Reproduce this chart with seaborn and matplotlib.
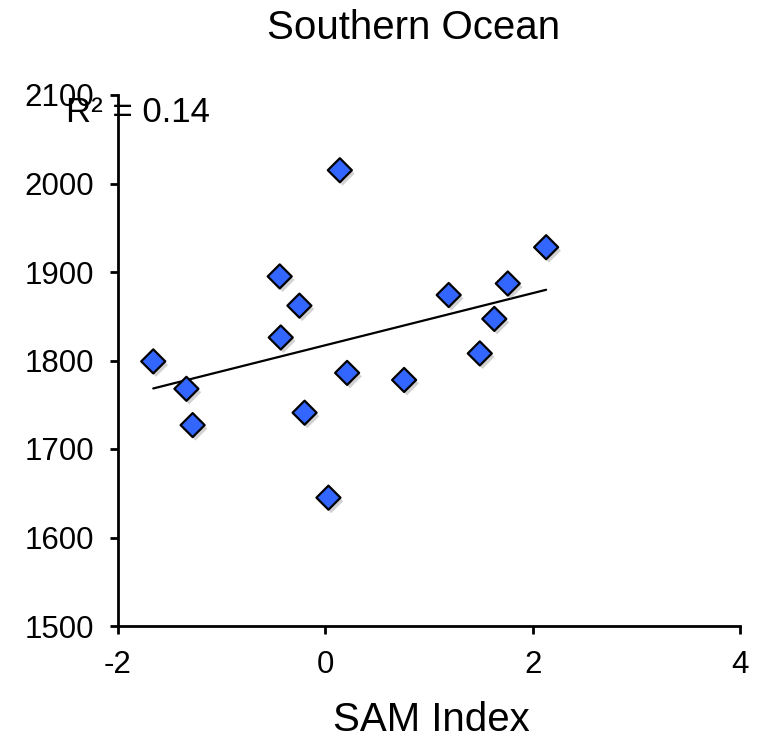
import numpy as np
import pandas as pd
import matplotlib
matplotlib.use("Agg")
import matplotlib.pyplot as plt
import matplotlib.patheffects as pe
import seaborn as sns

# SAM index vs. value, Southern Ocean
sam_index = [-1.66, -1.34, -1.28, -0.44, -0.43, -0.25, -0.20, 0.03,
             0.14, 0.21, 0.76, 1.19, 1.49, 1.63, 1.76, 2.13]
values = [1799, 1768, 1727, 1895, 1826, 1862, 1741, 1645,
          2015, 1786, 1778, 1874, 1808, 1847, 1887, 1928]
x_ticks = [-2, 0, 2, 4]
y_ticks = [1500, 1600, 1700, 1800, 1900, 2000, 2100]
title = "Southern Ocean"
x_label = "SAM Index"
r2_label = "R² = 0.14"

df = pd.DataFrame({"sam": sam_index, "val": values})

sns.set_style("white")
plt.rcParams["font.family"] = ["Liberation Sans", "DejaVu Sans"]
plt.rcParams["axes.unicode_minus"] = False
plt.rcParams["text.color"] = "black"
plt.rcParams["xtick.color"] = "black"
plt.rcParams["ytick.color"] = "black"
plt.rcParams["xtick.labelcolor"] = "black"
plt.rcParams["ytick.labelcolor"] = "black"

fig = plt.figure(figsize=(7.57, 7.46), dpi=100)
ax = fig.add_axes([118 / 757, 1 - 626 / 746, (740 - 118) / 757, (626 - 95) / 746])

# linear trend line over the data range
sns.regplot(data=df, x="sam", y="val", ax=ax, scatter=False, ci=None,
            truncate=True, color="black", line_kws={"lw": 1.6})

sns.scatterplot(data=df, x="sam", y="val", ax=ax, marker="D", s=150,
                color="#3366FF", edgecolor="black", linewidth=1.6,
                zorder=3)
for coll in ax.collections:
    coll.set_path_effects([pe.SimplePatchShadow(offset=(2, -2.5),
                                                shadow_rgbFace="0.5",
                                                alpha=0.35),
                           pe.Normal()])

ax.set_xlim(-2, 4)
ax.set_ylim(1500, 2100)
ax.set_xticks(x_ticks)
ax.set_yticks(y_ticks)
ax.set_xlabel("")
ax.set_ylabel("")

for side in ["top", "right"]:
    ax.spines[side].set_visible(False)
for side in ["left", "bottom"]:
    ax.spines[side].set_color("black")
    ax.spines[side].set_linewidth(2)

ax.tick_params(axis="both", which="major", direction="out", length=6,
               width=2, color="black", labelcolor="black", labelsize=22.5,
               pad=11, left=True, bottom=True)

fig.text(414 / 757, 1 - 28 / 746, title, ha="center", va="center",
         fontsize=29, color="black")
fig.text(431 / 757, 1 - 720 / 746, x_label, ha="center", va="center",
         fontsize=29, color="black")
fig.text(66 / 757, 1 - 112 / 746, r2_label, ha="left", va="center",
         fontsize=25, color="black")

fig.savefig("out.png", dpi=100)
